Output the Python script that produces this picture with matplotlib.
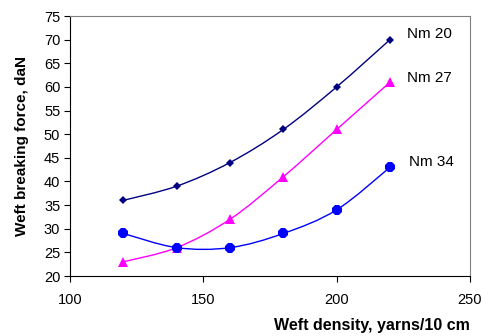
import matplotlib.pyplot as plt
from matplotlib.path import Path
from matplotlib.patches import PathPatch

density = [120, 140, 160, 180, 200, 220]
nm20 = [36, 39, 44, 51, 60, 70]
nm27 = [23, 26, 32, 41, 51, 61]
nm34 = [29, 26, 26, 29, 34, 43]

x_ticks = [100, 150, 200, 250]
y_ticks = [20, 25, 30, 35, 40, 45, 50, 55, 60, 65, 70, 75]


def smooth_path(xs, ys, k=1 / 6):
    # cardinal-spline bezier through the points, like a spreadsheet "smoothed line"
    verts = [(xs[0], ys[0])]
    codes = [Path.MOVETO]
    n = len(xs)
    for i in range(n - 1):
        x0, y0 = xs[max(i - 1, 0)], ys[max(i - 1, 0)]
        x1, y1 = xs[i], ys[i]
        x2, y2 = xs[i + 1], ys[i + 1]
        x3, y3 = xs[min(i + 2, n - 1)], ys[min(i + 2, n - 1)]
        c1 = (x1 + (x2 - x0) * k, y1 + (y2 - y0) * k)
        c2 = (x2 - (x3 - x1) * k, y2 - (y3 - y1) * k)
        verts += [c1, c2, (x2, y2)]
        codes += [Path.CURVE4] * 3
    return Path(verts, codes)


plt.rcParams["font.family"] = ["Liberation Sans", "DejaVu Sans"]

fig = plt.figure(figsize=(4.89, 3.36), dpi=100)
ax = fig.add_axes([70 / 489, 60 / 336, 400 / 489, 260 / 336])

series = [
    (nm20, "#000080", "D", 4.5, "Nm 20"),
    (nm27, "#ff00ff", "^", 7, "Nm 27"),
    (nm34, "#0000ff", "8", 8, "Nm 34"),
]
for ys, color, marker, ms, name in series:
    ax.add_patch(PathPatch(smooth_path(density, ys), facecolor="none",
                           edgecolor=color, linewidth=1.0))
    ax.plot(density, ys, linestyle="none", marker=marker, markersize=ms,
            color=color, markeredgewidth=0)

ax.text(226.3, 71.2, "Nm 20", fontsize=11, va="center", ha="left")
ax.text(226.3, 61.9, "Nm 27", fontsize=11, va="center", ha="left")
ax.text(227.3, 44.1, "Nm 34", fontsize=11, va="center", ha="left")

ax.set_xlim(100, 250)
ax.set_ylim(20, 75)
ax.set_xticks(x_ticks)
ax.set_yticks(y_ticks)
ax.tick_params(labelsize=10.5, direction="out", length=4, width=0.8, colors="black")
ax.tick_params(axis="x", pad=8)
ax.tick_params(axis="y", pad=3)

for side in ["top", "right"]:
    ax.spines[side].set_color("#808080")
for side in ["left", "bottom"]:
    ax.spines[side].set_color("black")

ax.set_xlabel("Weft density, yarns/10 cm", fontsize=11.5, fontweight="bold", loc="right", labelpad=8)
ax.set_ylabel("Weft breaking force, daN", fontsize=11, fontweight="bold", labelpad=11)

fig.savefig("out.png", dpi=100)
